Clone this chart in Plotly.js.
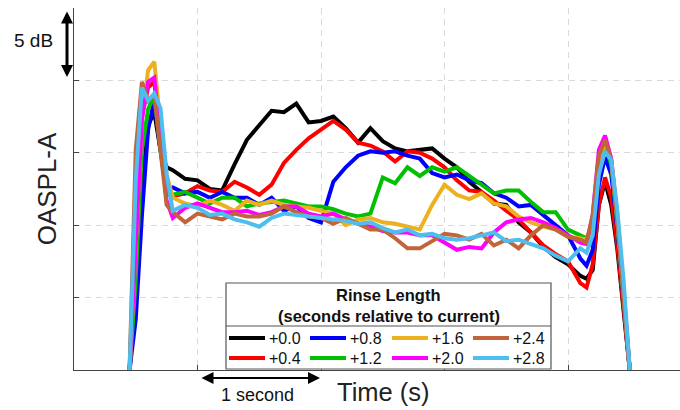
<!DOCTYPE html>
<html>
<head>
<meta charset="utf-8">
<script src="https://cdn.plot.ly/plotly-3.0.1.min.js"></script>
<style>
  html, body { margin: 0; padding: 0; background: #fff; }
  #chart { width: 680px; height: 410px; }
</style>
</head>
<body>
<div id="chart"></div>
<script>
// Sample times (s)
const time = [0.45, 0.5, 0.55, 0.6, 0.65, 0.7, 0.75,
  0.8, 0.9, 1.0, 1.1, 1.2, 1.3, 1.4, 1.5, 1.6, 1.7,
  1.8, 1.9, 2.0, 2.1, 2.2, 2.3, 2.4, 2.5, 2.6, 2.7,
  2.8, 2.9, 3.0, 3.1, 3.2, 3.3, 3.4, 3.5, 3.6, 3.7,
  3.8, 3.9, 4.0, 4.1,
  4.15, 4.2, 4.25, 4.3, 4.35, 4.4, 4.45, 4.5];

// OASPL-A (dB, relative) for each rinse length
const rinse00 = [0, 5.5, 12.4, 16.9, 17.8, 15.2, 14.0,
  13.8, 13.2, 13.1, 12.5, 12.4, 14.2, 15.9, 16.9, 17.9, 17.8,
  18.4, 17.1, 17.2, 17.5, 16.7, 15.7, 16.7, 15.8, 15.3, 15.1,
  15.2, 15.3, 14.6, 14.0, 13.0, 12.3, 11.5, 11.4, 10.2, 9.5,
  8.5, 7.8, 7.3, 6.5,
  6.3, 6.9, 11.4, 13.0, 11.4, 8.3, 4.1, 0];
const rinse04 = [0, 10.4, 17.6, 19.5, 19.9, 15.9, 12.8,
  12.0, 12.2, 12.7, 12.4, 12.3, 13.0, 12.6, 12.1, 12.8, 14.3,
  15.2, 16.0, 16.6, 17.2, 16.6, 15.7, 15.5, 15.1, 14.4, 15.1,
  15.0, 14.6, 14.0, 13.1, 12.4, 12.3, 11.7, 11.0, 10.4, 9.5,
  8.6, 8.0, 7.5, 6.0,
  5.7, 7.3, 11.4, 13.3, 11.9, 8.6, 4.5, 0];
const rinse08 = [0, 3.5, 10.7, 16.6, 18.6, 15.2, 12.4,
  12.6, 12.2, 12.3, 11.9, 12.3, 11.9, 11.9, 11.4, 11.9, 11.0,
  11.3, 10.5, 10.2, 13.0, 14.0, 14.8, 15.1, 15.0, 15.1, 14.8,
  14.6, 13.6, 13.3, 13.5, 13.1, 12.9, 12.2, 11.9, 11.3, 11.4,
  10.7, 10.0, 9.3, 7.7,
  7.2, 8.3, 12.8, 14.7, 13.5, 9.7, 4.8, 0];
const rinse12 = [0, 6.2, 15.2, 18.0, 19.0, 15.2, 12.1,
  12.1, 12.3, 11.9, 11.5, 11.9, 11.9, 11.3, 11.5, 11.6, 11.7,
  11.5, 11.3, 11.3, 11.1, 10.8, 10.6, 10.8, 13.3, 12.9, 14.0,
  13.4, 14.0, 13.7, 14.0, 13.4, 12.8, 12.2, 12.4, 12.4, 11.6,
  10.9, 10.9, 9.7, 9.3,
  9.1, 10.0, 14.5, 15.5, 14.2, 10.0, 5.2, 0];
const rinse16 = [0, 8.3, 17.3, 20.7, 21.3, 16.9, 13.5,
  11.9, 11.5, 11.3, 11.7, 11.4, 11.0, 11.7, 11.4, 11.7, 11.4,
  11.3, 11.2, 11.0, 10.8, 10.0, 10.4, 10.5, 10.2, 10.1, 9.9,
  9.7, 11.4, 12.8, 12.1, 11.8, 12.2, 11.5, 11.3, 10.6, 10.2,
  9.9, 9.7, 9.2, 9.1,
  9.0, 10.2, 14.5, 15.7, 14.5, 10.4, 5.4, 0];
const rinse20 = [0, 9.0, 17.3, 19.9, 20.2, 15.9, 11.7,
  10.5, 11.2, 11.5, 11.2, 10.9, 10.9, 11.0, 10.7, 10.9, 11.3,
  11.3, 10.8, 10.6, 10.8, 10.4, 10.1, 9.9, 9.6, 9.5, 9.5,
  9.3, 9.3, 8.8, 8.3, 8.5, 8.4, 9.5, 10.2, 10.4, 10.5,
  10.2, 9.8, 9.3, 8.8,
  8.7, 10.7, 15.2, 16.2, 14.6, 10.5, 5.5, 0];
const rinse24 = [0, 15.2, 19.9, 18.6, 19.0, 15.2, 11.4,
  10.9, 10.2, 10.8, 10.6, 10.4, 10.8, 10.6, 10.6, 10.8, 11.3,
  10.9, 10.6, 10.5, 10.1, 10.5, 10.1, 9.7, 9.7, 9.1, 8.4,
  8.4, 8.9, 9.4, 9.3, 9.0, 9.4, 8.6, 9.0, 8.4, 9.3,
  10.0, 9.7, 9.2, 9.0,
  8.8, 10.7, 14.8, 15.9, 14.5, 10.2, 5.4, 0];
const rinse28 = [0, 13.1, 19.5, 18.6, 19.1, 18.1, 13.5,
  11.0, 11.4, 11.2, 10.7, 10.8, 10.4, 10.2, 9.9, 10.5, 10.8,
  10.7, 10.6, 10.5, 10.4, 10.3, 10.1, 10.2, 9.8, 9.5, 9.7,
  9.3, 9.4, 9.1, 9.0, 9.1, 9.3, 9.5, 8.9, 9.0, 8.7,
  8.4, 7.9, 7.5, 8.4,
  8.1, 9.3, 13.5, 15.1, 14.5, 11.0, 6.2, 0];

const seriesNames = ['+0.0', '+0.4', '+0.8', '+1.2', '+1.6', '+2.0', '+2.4', '+2.8'];
const seriesColors = ['#000000', '#ff0000', '#0000ff', '#00c000', '#edb120', '#ff00ff', '#c1643a', '#4dbeee'];
const seriesValues = [rinse00, rinse04, rinse08, rinse12, rinse16, rinse20, rinse24, rinse28];

const traces = seriesValues.map((vals, i) => ({
  type: 'scatter',
  mode: 'lines',
  x: time,
  y: vals,
  name: seriesNames[i],
  line: { color: seriesColors[i], width: 4 },
  hoverinfo: 'skip',
  showlegend: false
}));

// Plot-area geometry in pixels, used to place the legend box and arrows
const L = 74, W = 606, B = 370, H = 362;
const px = x => (x - L) / W;
const py = y => (B - y) / H;

const FONT = 'Liberation Sans, Arial, sans-serif';

const shapes = [];
const annotations = [];

// Legend box with title and separator
shapes.push({ type: 'rect', xref: 'paper', yref: 'paper', layer: 'above',
  x0: px(226), x1: px(551), y0: py(369), y1: py(283),
  line: { color: '#555', width: 1.2 }, fillcolor: '#ffffff' });
shapes.push({ type: 'line', xref: 'paper', yref: 'paper', layer: 'above',
  x0: px(226), x1: px(551), y0: py(326), y1: py(326),
  line: { color: '#555', width: 1.2 } });
annotations.push({ xref: 'paper', yref: 'paper', x: px(388.5), y: py(295), showarrow: false,
  text: '<b>Rinse Length</b>', font: { family: FONT, size: 16.5, color: '#111' },
  xanchor: 'center', yanchor: 'middle' });
annotations.push({ xref: 'paper', yref: 'paper', x: px(388.5), y: py(316), showarrow: false,
  text: '<b>(seconds relative to current)</b>', font: { family: FONT, size: 16.5, color: '#111' },
  xanchor: 'center', yanchor: 'middle' });

// Legend entries: four columns, two rows
const colX = [229, 310, 392, 473];
const rowY = [338, 358];
seriesNames.forEach((name, i) => {
  const col = Math.floor(i / 2), row = i % 2;
  const x0 = colX[col], y = rowY[row];
  shapes.push({ type: 'line', xref: 'paper', yref: 'paper', layer: 'above',
    x0: px(x0), x1: px(x0 + 36), y0: py(y), y1: py(y),
    line: { color: seriesColors[i], width: 4 } });
  annotations.push({ xref: 'paper', yref: 'paper', x: px(x0 + 38), y: py(y), showarrow: false,
    text: name, font: { family: FONT, size: 16, color: '#111' },
    xanchor: 'left', yanchor: 'middle' });
});

// Scale arrows
annotations.push({ xref: 'paper', yref: 'paper', x: px(67), y: py(77), ax: 0, ay: -67,
  text: '', showarrow: true, arrowhead: 2, arrowside: 'end+start', arrowsize: 0.8,
  arrowwidth: 3, arrowcolor: '#000' });
annotations.push({ xref: 'paper', yref: 'paper', x: px(33), y: py(40), showarrow: false,
  text: '5 dB', font: { family: FONT, size: 19, color: '#111' }, xanchor: 'center', yanchor: 'middle' });
annotations.push({ xref: 'paper', yref: 'paper', x: px(320), y: py(378), ax: -120, ay: 0,
  text: '', showarrow: true, arrowhead: 2, arrowside: 'end+start', arrowsize: 1.2,
  arrowwidth: 2, arrowcolor: '#000' });
annotations.push({ xref: 'paper', yref: 'paper', x: px(257), y: py(395), showarrow: false,
  text: '1 second', font: { family: FONT, size: 18, color: '#111' }, xanchor: 'center', yanchor: 'middle' });
annotations.push({ xref: 'paper', yref: 'paper', x: px(383.5), y: py(392), showarrow: false,
  text: 'Time (s)', font: { family: FONT, size: 25.5, color: '#222' }, xanchor: 'center', yanchor: 'middle' });

const gridStyle = {
  showgrid: true, gridcolor: '#d9d9d9', griddash: '6px,5px', gridwidth: 1,
  zeroline: false, showline: true, linecolor: '#444', linewidth: 1,
  ticks: 'inside', ticklen: 5, tickcolor: '#444', tickwidth: 1,
  showticklabels: false, fixedrange: true
};

const layout = {
  width: 680, height: 410,
  margin: { l: L, r: 680 - L - W, t: B - H, b: 410 - B },
  paper_bgcolor: '#ffffff', plot_bgcolor: '#ffffff',
  font: { family: FONT, color: '#222' },
  showlegend: false,
  xaxis: Object.assign({}, gridStyle, {
    range: [0, W / 123.5], tickvals: [0, 1, 2, 3, 4]
  }),
  yaxis: Object.assign({}, gridStyle, {
    range: [0, 25], tickvals: [0, 5, 10, 15, 20, 25],
    title: { text: 'OASPL-A', font: { family: FONT, size: 26, color: '#222' }, standoff: 8 }
  }),
  shapes: shapes,
  annotations: annotations
};

Plotly.newPlot('chart', traces, layout, { displayModeBar: false, staticPlot: true });
</script>
</body>
</html>
